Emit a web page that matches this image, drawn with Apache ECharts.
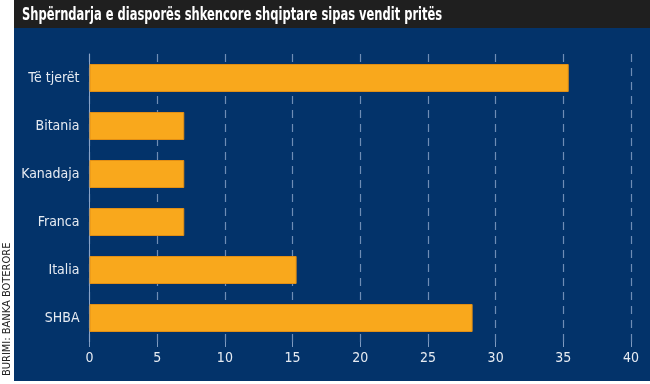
<!DOCTYPE html>
<html><head><meta charset="utf-8">
<script src="https://cdn.jsdelivr.net/npm/echarts@6/dist/echarts.min.js"></script>
<style>html,body{margin:0;padding:0;background:#fff;}#c{width:650px;height:384px;}</style>
</head><body><div id="c"></div>
<script>
const titleText = "Shpërndarja e diasporës shkencore shqiptare sipas vendit pritës";
const sourceText = "BURIMI: BANKA BOTERORE";
const categories = ["SHBA", "Italia", "Franca", "Kanadaja", "Bitania", "Të tjerët"];
const values = [28.3, 15.3, 7.0, 7.0, 7.0, 35.4];
const xTicks = [0, 5, 10, 15, 20, 25, 30, 35, 40];

const FONT = "'Liberation Sans Narrow','DejaVu Sans Condensed','Roboto Condensed',sans-serif";
const chart = echarts.init(document.getElementById('c'), null, {renderer: 'canvas'});
chart.setOption({
  animation: false,
  backgroundColor: '#ffffff',
  graphic: [
    {type: 'rect', shape: {x: 14, y: 0, width: 636, height: 28}, style: {fill: '#1f1f1f'}, z: -10},
    {type: 'rect', shape: {x: 14, y: 28, width: 636, height: 353}, style: {fill: '#03336a'}, z: -10},
    {type: 'text', x: 22, y: 15, scaleX: 0.71, style: {text: titleText, fill: '#ffffff', font: "bold 18px " + FONT, textVerticalAlign: 'middle'}},
    {type: 'text', x: 7, y: 376, rotation: Math.PI / 2, style: {text: sourceText, fill: '#222222', font: "11px " + FONT, textVerticalAlign: 'middle', textAlign: 'left'}}
  ],
  grid: {left: 89.5, right: 19, top: 54, bottom: 42, containLabel: false},
  xAxis: {
    type: 'value', min: 0, max: 40, interval: 5,
    axisLine: {show: false},
    axisTick: {show: true, length: 5, lineStyle: {color: '#7f9bc0'}},
    axisLabel: {color: '#e6ebf2', fontFamily: FONT, fontSize: 14, margin: 9,
      formatter: v => xTicks.includes(v) ? String(v) : ''},
    splitLine: {show: true, lineStyle: {color: '#6f8db5', type: [8, 6], width: 1.2}}
  },
  yAxis: {
    type: 'category', data: categories,
    axisLine: {show: true, lineStyle: {color: '#8aa3c6', width: 1}},
    axisTick: {show: false},
    axisLabel: {color: '#e6ebf2', fontFamily: FONT, fontSize: 14, margin: 10}
  },
  series: [{
    type: 'bar', data: values, barWidth: 28,
    itemStyle: {color: '#f9a81c', borderColor: '#e38f14', borderWidth: 1}
  }]
});
</script></body></html>
